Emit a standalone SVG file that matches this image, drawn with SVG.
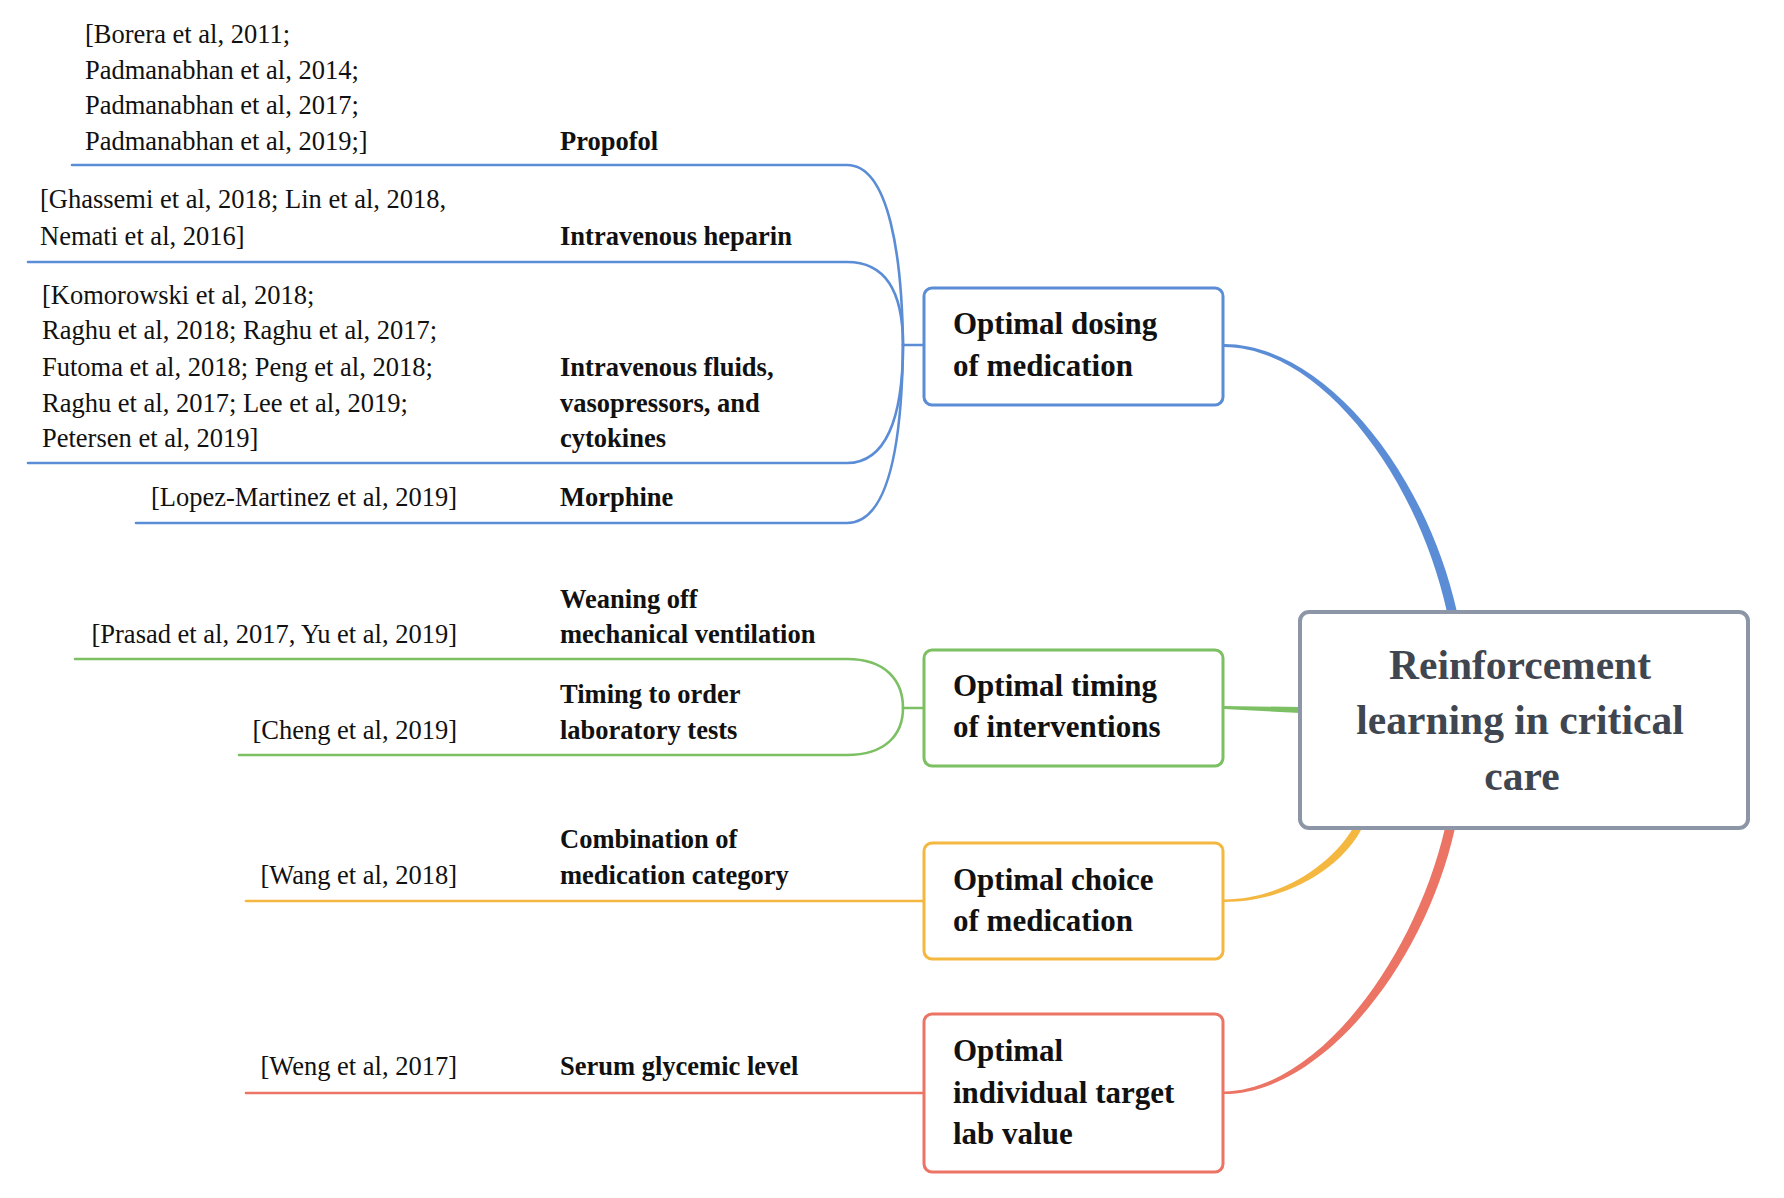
<svg xmlns="http://www.w3.org/2000/svg" width="1784" height="1198" viewBox="0 0 1784 1198">
<style>
.cit{font-family:"Liberation Serif","Times New Roman",serif;font-size:26.5px;fill:#111}
.lab{font-family:"Liberation Serif","Times New Roman",serif;font-size:26.5px;font-weight:bold;fill:#111}
.box{font-family:"Liberation Serif","Times New Roman",serif;font-size:31px;font-weight:bold;fill:#111}
.ctr{font-family:"Liberation Serif","Times New Roman",serif;font-size:41.5px;font-weight:bold;fill:#3f4650}
.ln{fill:none;stroke-width:2.6;stroke-linecap:round}
.b{stroke:#5b8dd6}.g{stroke:#7cc063}.o{stroke:#f4b840}.r{stroke:#ec7464}
.nb{fill:#fff;stroke-width:3}
</style>
<rect width="1784" height="1198" fill="#fff"/>
<g id="connectors">
  <!-- main tapered connectors -->
  <path d="M1224,344 C1322,344 1425,469 1457,612 L1447,612 C1416,472 1318,347 1224,347 Z" fill="#5b8dd6"/>
  <path d="M1224,706 L1300,707 L1300,713 L1224,709 Z" fill="#7cc063"/>
  <path d="M1224,899.5 C1288,899 1336,858 1353,828 L1362,828 C1345,863 1292,902 1224,902 Z" fill="#f4b840"/>
  <path d="M1224,1091.5 C1318,1090 1415,958 1445,828 L1455,828 C1425,964 1322,1094 1224,1094 Z" fill="#ec7464"/>
  <!-- blue sub-branches -->
  <path class="ln b" d="M72,165 L847,165 C890,165 902,260 903,345"/>
  <path class="ln b" d="M28,262 L847,262 C885,262 903,290 903,345"/>
  <path class="ln b" d="M28,463 L847,463 C885,463 903,420 903,345"/>
  <path class="ln b" d="M136,523 L847,523 C890,523 902,440 903,345"/>
  <path class="ln b" d="M903,345 L924,345"/>
  <!-- green sub-branches -->
  <path class="ln g" d="M75,659 L847,659 C885,659 903,680 903,708"/>
  <path class="ln g" d="M239,755 L847,755 C885,755 903,735 903,708"/>
  <path class="ln g" d="M903,708 L924,708"/>
  <!-- orange / red -->
  <path class="ln o" d="M246,901 L924,901"/>
  <path class="ln r" d="M246,1093 L924,1093"/>
</g>
<g id="central">
  <rect x="1300" y="612" width="448" height="216" rx="9" fill="#fff" stroke="#8d96a6" stroke-width="4"/>
  <text class="ctr" text-anchor="middle" x="1520" y="679">Reinforcement</text>
  <text class="ctr" text-anchor="middle" x="1520" y="734">learning in critical</text>
  <text class="ctr" text-anchor="middle" x="1522" y="790">care</text>
</g>
<g id="node-dosing">
  <rect class="nb" x="924" y="288" width="299" height="117" rx="8" stroke="#5b8dd6"/>
  <text class="box" x="953" y="334">Optimal dosing</text>
  <text class="box" x="953" y="375.5">of medication</text>
</g>
<g id="node-timing">
  <rect class="nb" x="924" y="650" width="299" height="116" rx="8" stroke="#7cc063"/>
  <text class="box" x="953" y="696">Optimal timing</text>
  <text class="box" x="953" y="737">of interventions</text>
</g>
<g id="node-choice">
  <rect class="nb" x="924" y="843" width="299" height="116" rx="8" stroke="#f4b840"/>
  <text class="box" x="953" y="890">Optimal choice</text>
  <text class="box" x="953" y="931">of medication</text>
</g>
<g id="node-target">
  <rect class="nb" x="924" y="1014" width="299" height="158" rx="8" stroke="#ec7464"/>
  <text class="box" x="953" y="1061">Optimal</text>
  <text class="box" x="953" y="1102.5">individual target</text>
  <text class="box" x="953" y="1144">lab value</text>
</g>
<g id="node-propofol">
  <text class="lab" x="560" y="150">Propofol</text>
</g>
<g id="node-propofol-refs">
  <text class="cit" x="85" y="43">[Borera et al, 2011;</text>
  <text class="cit" x="85" y="78.5">Padmanabhan et al, 2014;</text>
  <text class="cit" x="85" y="114">Padmanabhan et al, 2017;</text>
  <text class="cit" x="85" y="150">Padmanabhan et al, 2019;]</text>
</g>
<g id="node-heparin">
  <text class="lab" x="560" y="245">Intravenous heparin</text>
</g>
<g id="node-heparin-refs">
  <text class="cit" x="40" y="208">[Ghassemi et al, 2018; Lin et al, 2018,</text>
  <text class="cit" x="40" y="245">Nemati et al, 2016]</text>
</g>
<g id="node-fluids">
  <text class="lab" x="560" y="375.5">Intravenous fluids,</text>
  <text class="lab" x="560" y="412">vasopressors, and</text>
  <text class="lab" x="560" y="447">cytokines</text>
</g>
<g id="node-fluids-refs">
  <text class="cit" x="42" y="304">[Komorowski et al, 2018;</text>
  <text class="cit" x="42" y="339">Raghu et al, 2018; Raghu et al, 2017;</text>
  <text class="cit" x="42" y="375.5">Futoma et al, 2018; Peng et al, 2018;</text>
  <text class="cit" x="42" y="412">Raghu et al, 2017; Lee et al, 2019;</text>
  <text class="cit" x="42" y="447">Petersen et al, 2019]</text>
</g>
<g id="node-morphine">
  <text class="lab" x="560" y="506">Morphine</text>
</g>
<g id="node-morphine-refs">
  <text class="cit" x="457" y="506" text-anchor="end">[Lopez-Martinez et al, 2019]</text>
</g>
<g id="node-weaning">
  <text class="lab" x="560" y="608">Weaning off</text>
  <text class="lab" x="560" y="643">mechanical ventilation</text>
</g>
<g id="node-weaning-refs">
  <text class="cit" x="457" y="643" text-anchor="end">[Prasad et al, 2017, Yu et al, 2019]</text>
</g>
<g id="node-labtests">
  <text class="lab" x="560" y="703">Timing to order</text>
  <text class="lab" x="560" y="738.5">laboratory tests</text>
</g>
<g id="node-labtests-refs">
  <text class="cit" x="457" y="738.5" text-anchor="end">[Cheng et al, 2019]</text>
</g>
<g id="node-combination">
  <text class="lab" x="560" y="848">Combination of</text>
  <text class="lab" x="560" y="884">medication category</text>
</g>
<g id="node-combination-refs">
  <text class="cit" x="457" y="884" text-anchor="end">[Wang et al, 2018]</text>
</g>
<g id="node-glycemic">
  <text class="lab" x="560" y="1075">Serum glycemic level</text>
</g>
<g id="node-glycemic-refs">
  <text class="cit" x="457" y="1075" text-anchor="end">[Weng et al, 2017]</text>
</g>
</svg>
